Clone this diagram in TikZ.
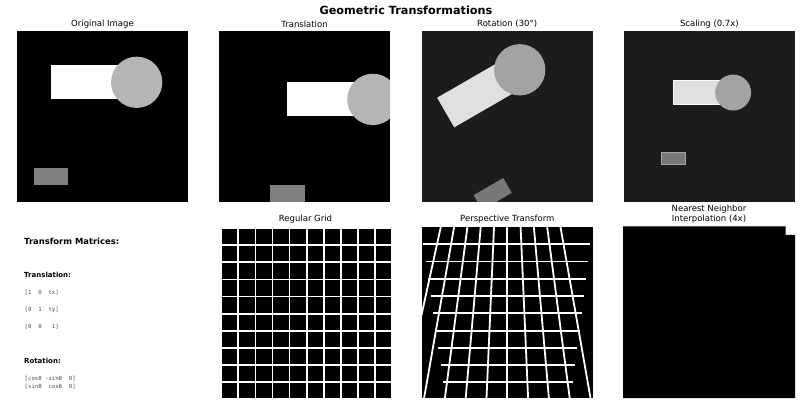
\documentclass[tikz,border=0pt]{standalone}
\usepackage{fontspec}
\setmainfont{DejaVu Sans}
\setmonofont{DejaVu Sans Mono}
\definecolor{bgd}{gray}{0.11}
\definecolor{lite}{gray}{0.88}
\definecolor{circO}{gray}{0.71}
\definecolor{circR}{gray}{0.64}
\definecolor{smallO}{gray}{0.50}
\definecolor{smallR}{gray}{0.47}
\definecolor{monogray}{gray}{0.3}
\begin{document}
\begin{tikzpicture}[x=1pt,y=-1pt,
  ttl/.style={font=\fontsize{8.5}{10.2}\selectfont, inner sep=0pt, align=center},
  head/.style={font=\bfseries\fontsize{7}{8.4}\selectfont, inner sep=0pt, anchor=west},
  mono/.style={font=\ttfamily\fontsize{5.65}{8.3}\selectfont, text=monogray, inner sep=0pt, anchor=west, align=left},
  gl/.style={white, line width=1.8pt},
  img/.style={scale=1.71}]
\useasboundingbox (0,0) rectangle (800,403);

% titles
\node[font=\bfseries\fontsize{11.25}{13}\selectfont, inner sep=0pt] (title) at (406,10) {Geometric Transformations};
\node[ttl] (t1) at (102.5,24) {Original Image};
\node[ttl] (t2) at (304.5,24) {Translation};
\node[ttl] (t3) at (507.2,24) {Rotation (30°)};
\node[ttl] (t4) at (709.4,24) {Scaling (0.7x)};
\node[ttl] (t5) at (305.5,219.5) {Regular Grid};
\node[ttl] (t6) at (507.3,219.5) {Perspective Transform};
\node[ttl] (t7) at (709,214) {Nearest Neighbor\\Interpolation (4x)};

% Original image
\begin{scope}[shift={(17,31)}, img]
  \fill[black] (0,0) rectangle (100,100);
  \fill[white] (20,20) rectangle (60,40);
  \fill[circO] (70,30) circle[radius=15];
  \fill[smallO] (10,80) rectangle (30,90);
\end{scope}

% Translation
\begin{scope}[shift={(219,31)}, img]
  \fill[black] (0,0) rectangle (100,100);
  \clip (0,0) rectangle (100,100);
  \fill[white] (40,30) rectangle (80,50);
  \fill[circO] (90,40) circle[radius=15];
  \fill[smallO] (30,90) rectangle (50,100);
\end{scope}

% Rotation
\begin{scope}[shift={(421.7,31)}, img]
  \fill[bgd] (0,0) rectangle (100,100);
  \clip (0,0) rectangle (100,100);
  \fill[lite] (9.02,39.02) -- (19.02,56.34) -- (53.66,36.34) -- (43.66,19.02) -- cycle;
  \fill[circR] (57.32,22.68) circle[radius=15];
  \fill[smallR] (30.36,95.98) -- (47.68,85.98) -- (52.68,94.64) -- (35.36,104.64) -- cycle;
\end{scope}

% Scaling
\begin{scope}[shift={(623.7,31)}, img]
  \fill[bgd] (0,0) rectangle (100,100);
  \filldraw[fill=lite, draw=white, line width=0.5pt] (29,29) rectangle (57,43);
  \fill[circR] (64,36) circle[radius=10.5];
  \filldraw[fill=smallR, draw=gray!70, line width=0.3pt] (22,71) rectangle (36,78);
\end{scope}

% Transform matrices text
\node[font=\bfseries\fontsize{8.4}{10}\selectfont, inner sep=0pt, anchor=west] (tm) at (24,241) {Transform Matrices:};
\node[head] (hT) at (24,275) {Translation:};
\node[mono] (m1) at (24.5,293) {[1\ \ 0\ \ tx]};
\node[mono] (m2) at (24.5,310) {[0\ \ 1\ \ ty]};
\node[mono] (m3) at (24.5,327) {[0\ \ 0\ \ \ 1]};
\node[head] (hR) at (24,361) {Rotation:};
\node[mono] (r1) at (24.5,378.7) {[cosθ\ -sinθ\ \ 0]};
\node[mono] (r2) at (24.5,387) {[sinθ\ \ cosθ\ \ 0]};

% Regular grid
\begin{scope}[shift={(220.3,227.3)}, img]
  \fill[black] (0,0) rectangle (100,100);
  \foreach \k in {0,...,9} {
    \fill[white] (\k*10,0) rectangle (\k*10+1,100);
    \fill[white] (0,\k*10) rectangle (100,\k*10+1);
  }
\end{scope}

% Perspective transform
\begin{scope}
  \fill[black] (421.7,227) rectangle (593,398);
  \clip (421.7,227) rectangle (593,398);
  \foreach \k in {-5,...,4} {
    \draw[gl] ({507.3+13.3*\k},227) -- ({507.3+20.8*\k},398);
  }
  \foreach \j in {0,...,8} {
    \pgfmathsetmacro\yy{244.3+17.26*\j}
    \draw[gl] ({423.3+(\yy-244.3)*0.145},\yy) -- ({590-(\yy-244.3)*0.121},\yy);
  }
\end{scope}

% Nearest neighbor
\fill[black] (623,226.5) -- (785.5,226.5) -- (785.5,235) -- (795,235) -- (795,398) -- (623,398) -- cycle;
\end{tikzpicture}
\end{document}
